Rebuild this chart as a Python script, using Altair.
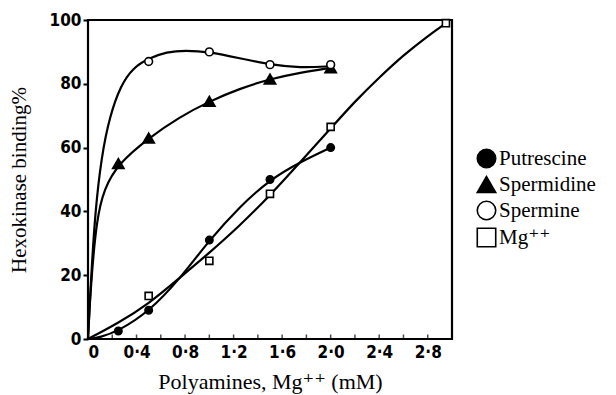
import altair as alt
import pandas as pd

# ---- data ----
series_names = ["Putrescine", "Spermidine", "Spermine", "Mg⁺⁺"]

# measured points
put_x = [0.25, 0.5, 1.0, 1.5, 2.0]
put_y = [2.5, 9, 31, 50, 60]
spd_x = [0.25, 0.5, 1.0, 1.5, 2.0]
spd_y = [55, 63, 74.5, 81.5, 85]
spm_x = [0.5, 1.0, 1.5, 2.0]
spm_y = [87, 90, 86, 86]
mg_x = [0.5, 1.0, 1.5, 2.0, 2.95]
mg_y = [13.5, 24.5, 45.5, 66.5, 99]

# hand-drawn curves
put_cx = [0, 0.1, 0.25, 0.5, 0.75, 1.0, 1.25, 1.5, 1.75, 2.0]
put_cy = [0, 0.5, 2.5, 8.5, 18.5, 31, 41.5, 50, 55.5, 60]
spd_cx = [0, 0.01, 0.03, 0.07, 0.13, 0.25, 0.5, 0.75, 1.0, 1.25, 1.5, 1.75, 2.0]
spd_cy = [0, 8, 20, 37, 47, 55, 63, 69.5, 74.5, 78.5, 81.5, 83.5, 85]
spm_cx = [0, 0.01, 0.03, 0.06, 0.11, 0.18, 0.27, 0.37, 0.5, 0.65, 0.8, 1.0, 1.25, 1.5, 1.75, 2.0]
spm_cy = [0, 8, 22, 40, 57, 70, 79.5, 85, 88, 90, 90.5, 90, 88, 86, 85, 85.5]
mg_cx = [0, 0.25, 0.5, 0.75, 1.0, 1.25, 1.5, 1.75, 2.0, 2.2, 2.4, 2.6, 2.8, 2.95]
mg_cy = [0, 5, 11, 19, 27, 35.5, 45, 55.5, 66, 74.5, 82, 89, 95, 99]

x_label_values = [0, 0.4, 0.8, 1.2, 1.6, 2.0, 2.4, 2.8]
x_minor_ticks = [0.2, 0.4, 0.6, 0.8, 1.0, 1.2, 1.4, 1.6, 1.8, 2.0, 2.2, 2.4, 2.6, 2.8]
y_tick_values = [0, 20, 40, 60, 80, 100]

# ---- tables ----
def tbl(name, xs, ys):
    return pd.DataFrame({"series": name, "x": xs, "y": ys})

pts = [
    tbl(series_names[0], put_x, put_y),
    tbl(series_names[1], spd_x, spd_y),
    tbl(series_names[2], spm_x, spm_y),
    tbl(series_names[3], mg_x, mg_y),
]

curves = pd.concat([
    tbl(series_names[0], put_cx, put_cy),
    tbl(series_names[1], spd_cx, spd_cy),
    tbl(series_names[2], spm_cx, spm_cy),
    tbl(series_names[3], mg_cx, mg_cy),
], ignore_index=True)

ticks_df = pd.DataFrame({"x": x_minor_ticks})

serif = "'Times New Roman', 'Liberation Serif', 'DejaVu Serif', serif"
condensed = "'DejaVu Sans Condensed', 'DejaVu Sans', sans-serif"

xscale = alt.Scale(domain=[0, 3.0], nice=False, zero=True)
yscale = alt.Scale(domain=[0, 100], nice=False)

x_axis = alt.Axis(
    title="Polyamines, Mg⁺⁺ (mM)",
    values=x_label_values,
    labelExpr="datum.value == 0 ? '0' : replace(format(datum.value, '.1f'), '.', '·')",
    ticks=False, domain=False, grid=False,
    labelFont=condensed, labelFontWeight="bold", labelFontSize=17, labelColor="black",
    labelPadding=5,
    titleFont=serif, titleFontSize=22, titleFontWeight="normal", titleColor="black",
    titleY=42, titleBaseline="middle",
)
y_axis = alt.Axis(
    title="Hexokinase binding%",
    values=y_tick_values,
    ticks=True, tickSize=5, tickWidth=2, tickColor="black",
    domain=False, grid=False,
    labelFont=condensed, labelFontWeight="bold", labelFontSize=17, labelColor="black",
    labelPadding=2,
    titleFont=serif, titleFontSize=21, titleFontWeight="normal", titleColor="black",
    titleX=-69, titleBaseline="middle",
)

legend = alt.Legend(title=None, orient="none", legendX=388, legendY=128,
                    labelFont=serif, labelFontSize=21, labelColor="black")

shape_enc = alt.Shape(
    "series:N",
    scale=alt.Scale(domain=series_names,
                    range=["circle", "triangle-up", "circle", "square"]),
    legend=legend,
)
fill_enc = alt.Fill(
    "series:N",
    scale=alt.Scale(domain=series_names,
                    range=["black", "black", "white", "white"]),
    legend=legend,
)
stroke_enc = alt.Stroke(
    "series:N",
    scale=alt.Scale(domain=series_names,
                    range=["black", "black", "black", "black"]),
    legend=legend,
)

curve_layer = alt.Chart(curves).mark_line(
    interpolate="basis", color="black", strokeWidth=2.2
).encode(
    x=alt.X("x:Q", scale=xscale, axis=x_axis),
    y=alt.Y("y:Q", scale=yscale, axis=y_axis),
    detail="series:N",
)

marker_sizes = [55, 130, 60, 50]
point_layers = []
for df, sz in zip(pts, marker_sizes):
    point_layers.append(
        alt.Chart(df).mark_point(
            filled=True, strokeWidth=1.6, opacity=1, size=sz
        ).encode(
            x=alt.X("x:Q", scale=xscale),
            y=alt.Y("y:Q", scale=yscale),
            shape=shape_enc,
            fill=fill_enc,
            stroke=stroke_enc,
        )
    )

tick_layer = alt.Chart(ticks_df).mark_tick(
    orient="vertical", size=9, thickness=1.5, color="black", clip=True
).encode(
    x=alt.X("x:Q", scale=xscale),
    y=alt.datum(0),
)

chart = alt.layer(curve_layer, tick_layer, *point_layers).properties(
    width=364, height=319,
    autosize=alt.AutoSizeParams(type="none"),
    padding={"left": 88, "top": 20, "right": 164, "bottom": 56},
    background="white",
).configure(
    font=serif
).configure_view(
    stroke="black", strokeWidth=2.2
).configure_legend(
    labelFont=serif, labelFontSize=21, labelColor="black",
    symbolSize=340, symbolStrokeWidth=1.6, symbolOpacity=1,
    rowPadding=2, labelOffset=2, labelLimit=200,
)

chart.save("out.html", embed_options={"renderer": "svg", "actions": False})
